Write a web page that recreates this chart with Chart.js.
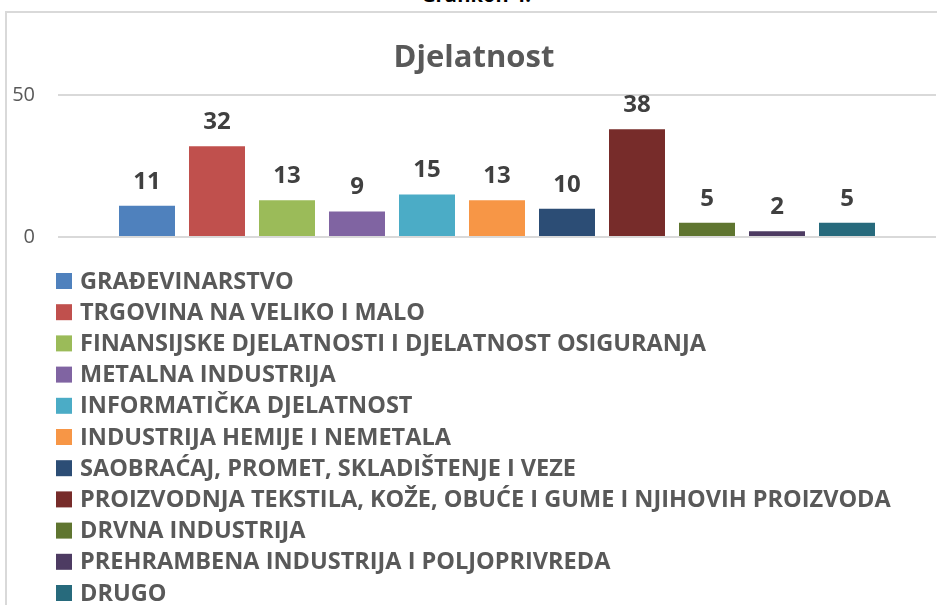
<!DOCTYPE html>
<html lang="hr">
<head>
  <meta charset="UTF-8" />
  <title>Grafikon 4. Djelatnost</title>
  <script src="https://cdn.jsdelivr.net/npm/chart.js"></script>
  <style>
    html, body { margin: 0; padding: 0; background: #fff; overflow: hidden; }
    body { width: 937px; height: 605px; position: relative; font-family: 'Open Sans', sans-serif; }
    .caption {
      position: absolute; left: 0; width: 952px; top: -15px;
      text-align: center; font: bold 20px/20px 'Open Sans', sans-serif; color: #000;
    }
    .frame {
      position: absolute; left: 5px; top: 11px; width: 1000px; height: 700px;
      border-left: 2px solid #d9d9d9; border-top: 2px solid #d9d9d9;
    }
    #chart { position: absolute; left: 0; top: 0; }
  </style>
</head>
<body>
  <div class="caption">Grafikon 4.</div>
  <div class="frame"></div>
  <canvas id="chart" width="937" height="605"></canvas>

  <script>
    // categories (one bar each, shown in the legend)
    const categories = [
      "GRAĐEVINARSTVO",
      "TRGOVINA NA VELIKO I MALO",
      "FINANSIJSKE DJELATNOSTI I DJELATNOST OSIGURANJA",
      "METALNA INDUSTRIJA",
      "INFORMATIČKA DJELATNOST",
      "INDUSTRIJA HEMIJE I NEMETALA",
      "SAOBRAĆAJ, PROMET, SKLADIŠTENJE I VEZE",
      "PROIZVODNJA TEKSTILA, KOŽE, OBUĆE I GUME I NJIHOVIH PROIZVODA",
      "DRVNA INDUSTRIJA",
      "PREHRAMBENA INDUSTRIJA I POLJOPRIVREDA",
      "DRUGO"
    ];
    const counts = [11, 32, 13, 9, 15, 13, 10, 38, 5, 2, 5];
    const colors = [
      "#4F81BD", "#C0504D", "#9BBB59", "#8064A2", "#4BACC6", "#F79646",
      "#2C4D75", "#772C2A", "#5F7530", "#4D3B62", "#276A7C"
    ];
    const yTicks = [0, 50];

    // value labels above bars
    const barValues = {
      id: "barValues",
      afterDatasetsDraw(chart) {
        const ctx = chart.ctx;
        ctx.save();
        ctx.font = "bold 24px 'Open Sans'";
        ctx.fillStyle = "#404040";
        ctx.textAlign = "center";
        ctx.textBaseline = "alphabetic";
        chart.data.datasets.forEach((ds, i) => {
          const bar = chart.getDatasetMeta(i).data[0];
          ctx.fillText(ds.data[0], bar.x, bar.y - 17);
        });
        ctx.restore();
      }
    };

    // legend as a vertical list under the plot
    const listLegend = {
      id: "listLegend",
      afterDraw(chart) {
        const ctx = chart.ctx;
        ctx.save();
        ctx.font = "bold 23.5px 'Open Sans'";
        ctx.textBaseline = "middle";
        ctx.textAlign = "left";
        chart.data.datasets.forEach((ds, i) => {
          const y = 281 + i * 31.2;
          ctx.fillStyle = ds.backgroundColor;
          ctx.fillRect(56, y - 8, 16, 16);
          ctx.fillStyle = "#595959";
          ctx.fillText(ds.label, 80, y + 1);
        });
        ctx.restore();
      }
    };

    new Chart(document.getElementById("chart"), {
      type: "bar",
      data: {
        labels: [""],
        datasets: categories.map((c, i) => ({
          label: c,
          data: [counts[i]],
          backgroundColor: colors[i],
          barPercentage: 0.8,
          categoryPercentage: 0.877
        }))
      },
      plugins: [barValues, listLegend],
      options: {
        responsive: false,
        animation: false,
        layout: { padding: { top: 40, left: 12, right: 1, bottom: 368 } },
        plugins: {
          legend: { display: false },
          tooltip: { enabled: false },
          title: {
            display: true,
            text: "Djelatnost",
            color: "#595959",
            font: { family: "'Open Sans'", size: 31, weight: "bold", lineHeight: 1.2 },
            padding: { top: 0, bottom: 18 }
          }
        },
        scales: {
          x: { display: false },
          y: {
            min: 0,
            max: 50,
            afterBuildTicks: axis => { axis.ticks = yTicks.map(v => ({ value: v })); },
            afterFit: axis => { axis.width = 46; },
            grid: { color: "#d9d9d9", lineWidth: 2, drawTicks: false },
            border: { display: false },
            ticks: {
              padding: 23,
              color: "#595959",
              font: { family: "'Open Sans'", size: 20 }
            }
          }
        }
      }
    });
  </script>
</body>
</html>
